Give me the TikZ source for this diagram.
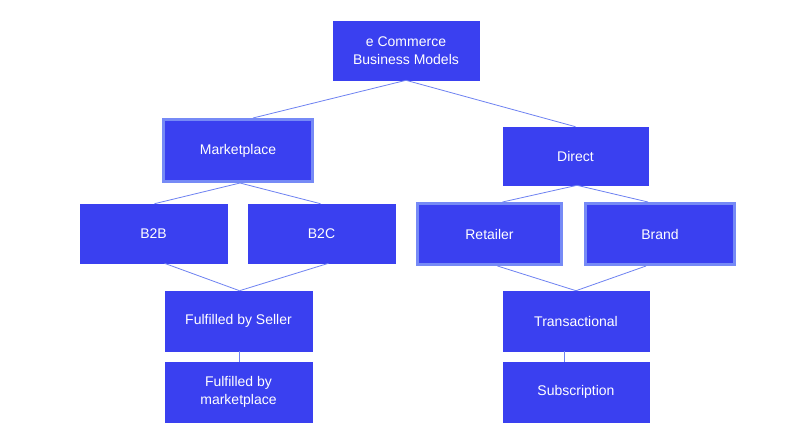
\documentclass[tikz,border=0pt]{standalone}
\usepackage{fontspec}
\setmainfont{Liberation Sans}
\usetikzlibrary{calc}
\definecolor{boxblue}{RGB}{58,64,240}
\definecolor{hiblue}{RGB}{118,138,246}
\definecolor{lineblue}{RGB}{110,130,242}
\tikzset{
  box/.style={rectangle, fill=boxblue, draw=boxblue, line width=0.6pt, text=white,
    font=\fontsize{14}{17.5}\selectfont, align=center, inner sep=0pt,
    minimum width=146pt, minimum height=59pt},
  hibox/.style={box, draw=hiblue, line width=3pt},
  conn/.style={draw=lineblue, line width=0.8pt}
}
\begin{document}
\begin{tikzpicture}[x=1pt,y=-1pt]
\path[use as bounding box, fill=white] (0,0) rectangle (810,445);
\node[box] (root) at (406,50.5) {e Commerce\\Business Models};
\node[hibox, minimum width=149pt, minimum height=62pt] (market) at (238,150.5) {Marketplace};
\node[box, minimum width=145pt, minimum height=58pt] (direct) at (575.5,156) {Direct};
\node[box, minimum width=147pt] (b2b) at (153.5,233.5) {B2B};
\node[box, minimum width=147pt] (b2c) at (321.5,233.5) {B2C};
\node[hibox, minimum width=144pt, minimum height=61pt] (retailer) at (489.5,234) {Retailer};
\node[hibox, minimum width=149pt, minimum height=61pt] (brand) at (660,234) {Brand};
\node[box, minimum width=147pt, minimum height=60pt] (fbs) at (238.5,321) {Fulfilled by Seller};
\node[box, minimum width=147pt, minimum height=60pt] (fbm) at (238.5,392) {Fulfilled by\\marketplace};
\node[box, minimum height=60pt] (trans) at (576,321) {Transactional};
\node[box, minimum height=60pt] (subs) at (576,392) {Subscription};
\draw[conn] (root.south) -- ($(market.north)+(15,0)$);
\draw[conn] (root.south) -- (direct.north);
\draw[conn] ($(market.south)+(2,0)$) -- ($(b2b.north)+(1,0)$);
\draw[conn] ($(market.south)+(2,0)$) -- ($(b2c.north)+(-1,0)$);
\draw[conn] ($(b2b.south)+(11,0)$) -- ($(fbs.north)+(1,0)$);
\draw[conn] ($(b2c.south)+(7,0)$) -- ($(fbs.north)+(1,0)$);
\draw[conn] ($(direct.south)+(1.5,0)$) -- ($(retailer.north)+(13,0)$);
\draw[conn] ($(direct.south)+(1.5,0)$) -- ($(brand.north)+(-12,0)$);
\draw[conn] ($(retailer.south)+(8,0)$) -- (trans.north);
\draw[conn] ($(brand.south)+(-14,0)$) -- (trans.north);
\draw[conn] ($(fbs.south)+(0.5,0)$) -- ($(fbm.north)+(0.5,0)$);
\draw[conn] ($(trans.south)+(-12,0)$) -- ($(subs.north)+(-12,0)$);
\end{tikzpicture}
\end{document}
